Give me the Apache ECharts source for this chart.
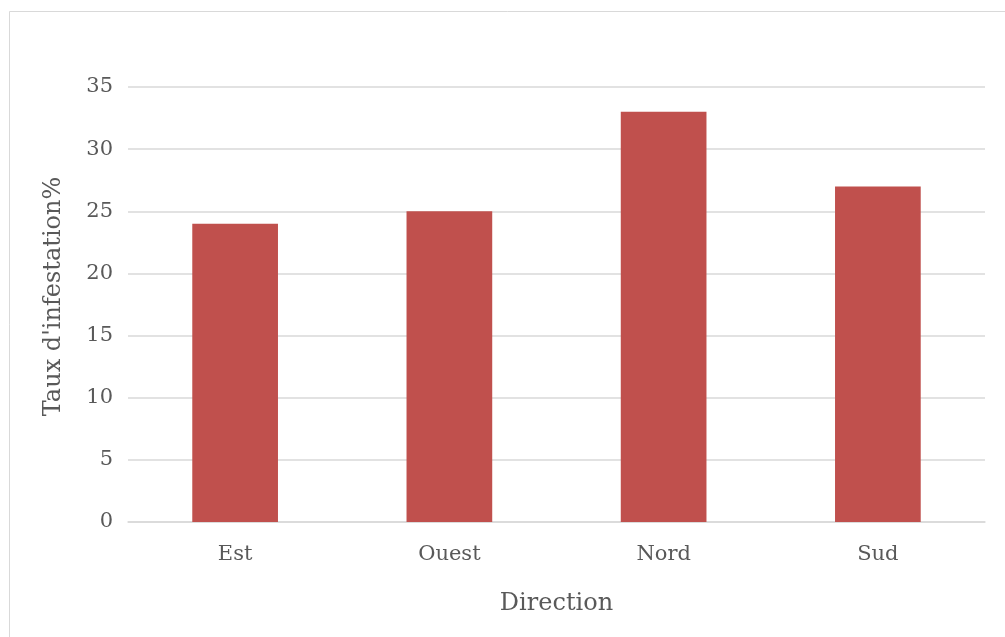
<!DOCTYPE html>
<html><head><meta charset="utf-8">
<script src="https://cdn.jsdelivr.net/npm/echarts@6/dist/echarts.min.js"></script>
<style>
html,body{margin:0;padding:0;background:#fff;}
#c{width:1005px;height:637px;}
</style></head>
<body><div id="c"></div>
<script>
const categories = ["Est", "Ouest", "Nord", "Sud"];
const values = [24, 25, 33, 27];
const yTicks = [0, 5, 10, 15, 20, 25, 30, 35];
const xTitle = "Direction";
const yTitle = "Taux d'infestation%";

const font = "'DejaVu Serif', serif";
const chart = echarts.init(document.getElementById('c'), null, {renderer: 'canvas'});
chart.setOption({
  backgroundColor: '#fff',
  animation: false,
  graphic: [{
    type: 'rect', left: 7, top: 9,
    shape: {width: 998, height: 628},
    style: {fill: 'none', stroke: '#d9d9d9', lineWidth: 1}
  }],
  grid: {left: 128, right: 20, top: 87, bottom: 115, containLabel: false},
  xAxis: {
    type: 'category', data: categories,
    name: xTitle, nameLocation: 'middle', nameGap: 70,
    nameTextStyle: {fontFamily: font, fontSize: 24, color: '#595959'},
    axisLine: {show: true, lineStyle: {color: '#d9d9d9', width: 1.5}},
    axisTick: {show: false},
    axisLabel: {fontFamily: font, fontSize: 21, color: '#595959', margin: 22}
  },
  yAxis: {
    type: 'value', min: yTicks[0], max: yTicks[yTicks.length - 1], interval: 5,
    name: yTitle, nameLocation: 'middle', nameGap: 62,
    nameTextStyle: {fontFamily: font, fontSize: 24, color: '#595959', padding: [0, 0, 0, 16]},
    axisLine: {show: false}, axisTick: {show: false},
    axisLabel: {fontFamily: font, fontSize: 21, color: '#595959', margin: 15},
    splitLine: {lineStyle: {color: '#d9d9d9', width: 1.5}}
  },
  series: [{
    type: 'bar', data: values, barWidth: '40%',
    itemStyle: {color: '#c0504d'}
  }]
});
</script></body></html>
